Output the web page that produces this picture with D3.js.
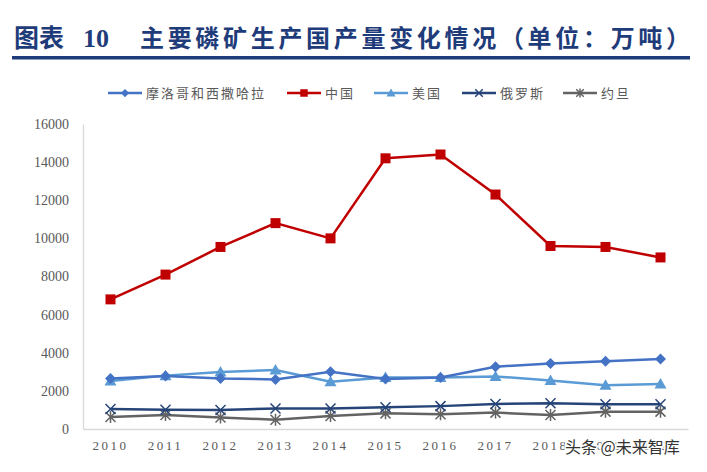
<!DOCTYPE html>
<html>
<head>
<meta charset="utf-8">
<script src="https://cdn.jsdelivr.net/npm/d3@7"></script>
<style>
  body { margin: 0; background: #fff; }
  svg { display: block; }
</style>
</head>
<body>
<svg width="707" height="472"></svg>
<script>
const years = ['2010', '2011', '2012', '2013', '2014', '2015', '2016', '2017', '2018', '2019', '2020']
const yTicks = [0, 2000, 4000, 6000, 8000, 10000, 12000, 14000, 16000]
const names = ['摩洛哥和西撒哈拉', '中国', '美国', '俄罗斯', '约旦']

const morocco = [2650, 2780, 2650, 2600, 3000, 2620, 2700, 3270, 3430, 3550, 3670]
const china = [6800, 8100, 9550, 10800, 10000, 14200, 14400, 12300, 9600, 9550, 9000]
const usa = [2520, 2800, 2990, 3100, 2480, 2700, 2700, 2760, 2550, 2290, 2360]
const russia = [1050, 1010, 1000, 1080, 1080, 1140, 1200, 1310, 1350, 1300, 1300]
const jordan = [630, 730, 600, 490, 680, 820, 770, 860, 730, 910, 910]

const colors = ['#4472C4', '#C00000', '#5B9BD5', '#264478', '#636363']
const markers = ['diamond', 'square', 'triangle', 'x', 'star']
const series = [morocco, china, usa, russia, jordan]

const svg = d3.select('svg')
const navy = '#1F3C7A'

// title
svg.append('text')
  .attr('x', 14).attr('y', 47)
  .attr('fill', navy)
  .style('font-family', '"Noto Sans CJK SC"')
  .style('font-weight', 'bold')
  .style('font-size', '25px')
  .text('图表')
svg.append('text')
  .attr('x', 83).attr('y', 47)
  .attr('fill', navy)
  .style('font-family', '"Liberation Serif"')
  .style('font-weight', 'bold')
  .style('font-size', '26px')
  .text('10')
svg.append('text')
  .attr('x', 140).attr('y', 47)
  .attr('fill', navy)
  .attr('textLength', 550)
  .attr('lengthAdjust', 'spacing')
  .style('font-family', '"Noto Sans CJK SC"')
  .style('font-weight', 'bold')
  .style('font-size', '24px')
  .text('主要磷矿生产国产量变化情况（单位：万吨）')
svg.append('rect')
  .attr('x', 12).attr('y', 56).attr('width', 678).attr('height', 3.5)
  .attr('fill', navy)

const x = d3.scaleBand().domain(years).range([83, 688])
const y = d3.scaleLinear().domain([0, 16000]).range([429, 124])

// axes
const xAxis = svg.append('g')
  .attr('transform', 'translate(0,429)')
  .call(d3.axisBottom(x).tickSize(0).tickPadding(12))
xAxis.select('.domain').attr('stroke', '#D9D9D9').attr('stroke-width', 1.3)
xAxis.selectAll('text')
  .attr('fill', '#595959')
  .style('font-family', '"Liberation Serif"')
  .style('font-size', '13px')
  .style('letter-spacing', '2.5px')

const yAxis = svg.append('g')
  .attr('transform', 'translate(83,0)')
  .call(d3.axisLeft(y).tickValues(yTicks).tickSize(0).tickPadding(14).tickFormat(d3.format('d')))
yAxis.select('.domain').attr('stroke', '#D9D9D9').attr('stroke-width', 1.3)
yAxis.selectAll('text')
  .attr('fill', '#595959')
  .style('font-family', '"Liberation Serif"')
  .style('font-size', '14px')

function drawMarker (g, type, color, cx, cy, s) {
  if (type === 'diamond') {
    g.append('path').attr('d', `M${cx},${cy - 5.5 * s}L${cx + 5.5 * s},${cy}L${cx},${cy + 5.5 * s}L${cx - 5.5 * s},${cy}Z`).attr('fill', color)
  } else if (type === 'square') {
    g.append('rect').attr('x', cx - 5 * s).attr('y', cy - 5 * s).attr('width', 10 * s).attr('height', 10 * s).attr('fill', color)
  } else if (type === 'triangle') {
    g.append('path').attr('d', `M${cx},${cy - 6 * s}L${cx + 6 * s},${cy + 4.5 * s}L${cx - 6 * s},${cy + 4.5 * s}Z`).attr('fill', color)
  } else if (type === 'x') {
    g.append('path').attr('d', `M${cx - 5 * s},${cy - 5 * s}L${cx + 5 * s},${cy + 5 * s}M${cx - 5 * s},${cy + 5 * s}L${cx + 5 * s},${cy - 5 * s}`)
      .attr('stroke', color).attr('stroke-width', 1.5)
  } else {
    g.append('path').attr('d', `M${cx - 5 * s},${cy - 5 * s}L${cx + 5 * s},${cy + 5 * s}M${cx - 5 * s},${cy + 5 * s}L${cx + 5 * s},${cy - 5 * s}M${cx},${cy - 6 * s}L${cx},${cy + 6 * s}`)
      .attr('stroke', color).attr('stroke-width', 1.5)
  }
}

const line = d3.line()
  .x((d, i) => x(years[i]) + x.bandwidth() / 2)
  .y(d => y(d))

// draw back to front: jordan, russia, usa, morocco, china
const order = [4, 3, 2, 0, 1]
order.forEach(k => {
  const g = svg.append('g')
  g.append('path')
    .datum(series[k])
    .attr('d', line)
    .attr('fill', 'none')
    .attr('stroke', colors[k])
    .attr('stroke-width', 2.5)
  series[k].forEach((v, i) => {
    drawMarker(g, markers[k], colors[k], x(years[i]) + x.bandwidth() / 2, y(v), 1)
  })
})

// legend
const legendX = [108, 287, 374, 462, 563]
names.forEach((n, k) => {
  const g = svg.append('g')
  g.append('line')
    .attr('x1', legendX[k]).attr('x2', legendX[k] + 34)
    .attr('y1', 93).attr('y2', 93)
    .attr('stroke', colors[k]).attr('stroke-width', 2.5)
  drawMarker(g, markers[k], colors[k], legendX[k] + 17, 93, 0.75)
  g.append('text')
    .attr('x', legendX[k] + 38).attr('y', 98)
    .attr('fill', '#595959')
    .style('font-family', '"Noto Sans CJK SC"')
    .style('font-size', '13px')
    .style('letter-spacing', '2px')
    .text(n)
})

// watermark
svg.append('text')
  .attr('x', 565).attr('y', 453)
  .attr('fill', '#333')
  .attr('stroke', '#fff').attr('stroke-width', 3).attr('paint-order', 'stroke')
  .style('font-family', '"Noto Sans CJK SC"')
  .style('font-size', '16px')
  .text('头条 @未来智库')
</script>
</body>
</html>
